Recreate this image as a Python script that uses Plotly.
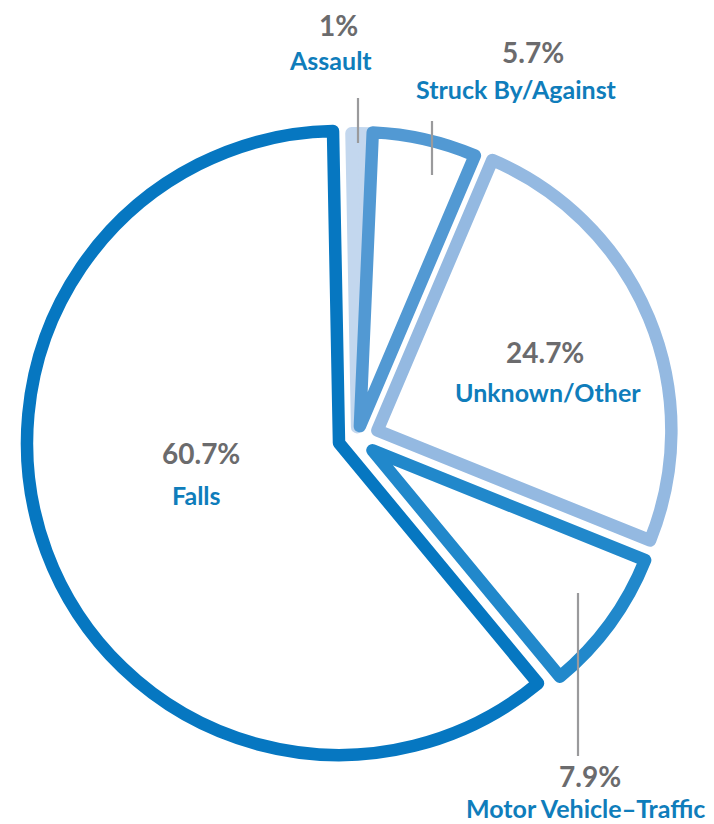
import plotly.graph_objects as go

# ---- data ----
categories = ["Assault", "Struck By/Against", "Unknown/Other", "Motor Vehicle\u2013Traffic", "Falls"]
values = [1.0, 5.7, 24.7, 7.9, 60.7]
pct_labels = ["1%", "5.7%", "24.7%", "7.9%", "60.7%"]
line_colors = ["#c3d7ee", "#5299d3", "#94b9e1", "#2188cb", "#0677c1"]
fill_colors = ["#c3d7ee", "#ffffff", "#ffffff", "#ffffff", "#ffffff"]

W, H = 714, 824
CLEAR = "rgba(0,0,0,0)"
LW = 12.5


def px(x):
    return x / W


def py(y):
    return 1 - y / H


def dom(cx, cy, half):
    return dict(x=[px(cx - half), px(cx + half)], y=[py(cy + half), py(cy - half)])


is_falls = [c == "Falls" for c in categories]
ROT = -1.1

fig = go.Figure()

# Falls (larger) slice
fig.add_trace(go.Pie(
    labels=categories, values=values, sort=False, direction="clockwise", rotation=ROT,
    marker=dict(colors=[f if b else CLEAR for f, b in zip(fill_colors, is_falls)],
                line=dict(color=[c if b else CLEAR for c, b in zip(line_colors, is_falls)], width=LW)),
    textinfo="none", hoverinfo="label+percent", showlegend=False,
    domain=dom(331, 435, 312),
))

# Other slices, pulled out
pulls = [0.04, 0.045, 0.075, 0.065, 0.0]
R_OTHER = 294
fig.add_trace(go.Pie(
    labels=categories, values=values, sort=False, direction="clockwise", rotation=ROT,
    pull=pulls,
    marker=dict(colors=[CLEAR if b else f for f, b in zip(fill_colors, is_falls)],
                line=dict(color=[CLEAR if b else c for c, b in zip(line_colors, is_falls)], width=LW)),
    textinfo="none", hoverinfo="label+percent", showlegend=False,
    domain=dom(349, 431, R_OTHER * (1 + max(pulls))),
))

# ---- labels ----
label_pos = {  # pixel centres: (pct_x, pct_y, name_x, name_y)
    "Assault": (330, 25, 322, 60),
    "Struck By/Against": (525, 52, 508, 88),
    "Unknown/Other": (537, 352, 540, 391),
    "Motor Vehicle\u2013Traffic": (582, 776, 577, 807),
    "Falls": (193, 453, 188, 494),
}
FONT = "Lato, Open Sans, sans-serif"
PCT_SIZE, NAME_SIZE = 28, 25
for cat, pct in zip(categories, pct_labels):
    x1, y1, x2, y2 = label_pos[cat]
    fig.add_annotation(x=px(x1), y=py(y1 - 0.3 * PCT_SIZE), xref="paper", yref="paper", text=pct,
                       showarrow=False, xanchor="center", yanchor="middle",
                       font=dict(family=FONT, size=PCT_SIZE, color="#6b6b6d", weight=700))
    fig.add_annotation(x=px(x2), y=py(y2 - 0.3 * NAME_SIZE), xref="paper", yref="paper", text=cat,
                       showarrow=False, xanchor="center", yanchor="middle",
                       font=dict(family=FONT, size=NAME_SIZE, color="#0f7dbb", weight=700))

# leader lines
leaders = [(350, 90, 135), (424, 113, 167), (570, 585, 748)]
for x, ya, yb in leaders:
    fig.add_shape(type="line", xref="paper", yref="paper", x0=px(x), x1=px(x), y0=py(ya), y1=py(yb),
                  line=dict(color="#9a9a9c", width=2.2))

fig.update_layout(width=W, height=H, margin=dict(l=0, r=0, t=0, b=0),
                  paper_bgcolor="white", plot_bgcolor="white", showlegend=False)

fig.write_html("out.html")
